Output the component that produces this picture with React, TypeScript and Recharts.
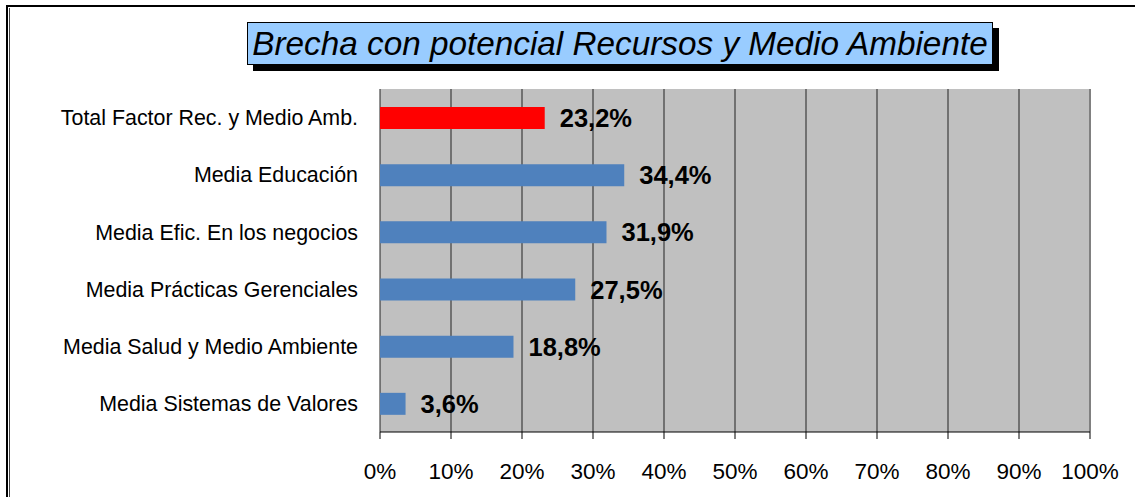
import React from 'react';
import {
  BarChart, Bar, XAxis, YAxis, CartesianGrid, Cell, LabelList, ReferenceLine,
} from 'recharts';

const categories = [
  'Total Factor Rec. y Medio Amb.',
  'Media Educación',
  'Media Efic. En los negocios',
  'Media Prácticas Gerenciales',
  'Media Salud y Medio Ambiente',
  'Media Sistemas de Valores',
];
const values = [23.2, 34.4, 31.9, 27.5, 18.8, 3.6];
const barColors = ['#FF0000', '#4F81BD', '#4F81BD', '#4F81BD', '#4F81BD', '#4F81BD'];
const xTicks = [0, 10, 20, 30, 40, 50, 60, 70, 80, 90, 100];
const boundaryTicks = [0, 1, 2, 3, 4, 5, 6];
const title = 'Brecha con potencial Recursos y Medio Ambiente';

const data = categories.map((name, i) => ({ name, value: values[i] }));

const FONT = '"Liberation Sans", Arial, sans-serif';

export default function App() {
  return (
    <div style={{ position: 'absolute', left: 0, top: 0, width: 1135, height: 497, overflow: 'hidden', background: '#fff', fontFamily: FONT }}>
      {/* frame */}
      <div style={{ position: 'absolute', left: 6, top: 5, width: 1200, height: 600, borderTop: '2px solid #000', borderLeft: '2px solid #000' }} />
      <div style={{ position: 'absolute', left: 9, top: 8, width: 0, height: 600, borderLeft: '1px solid #444' }} />
      <BarChart
        width={1135}
        height={497}
        data={data}
        layout="vertical"
        margin={{ top: 89, right: 45, bottom: 0, left: 0 }}
        barSize={22}
        style={{ position: 'absolute', left: 0, top: 0 }}
      >
        <CartesianGrid horizontal={false} stroke="#222" fill="#C0C0C0" />
        <XAxis
          type="number"
          domain={[0, 100]}
          ticks={xTicks}
          interval={0}
          tickFormatter={(v: number) => `${v}%`}
          height={65}
          tickSize={7}
          tickMargin={24}
          axisLine={{ stroke: '#000' }}
          tickLine={{ stroke: '#000' }}
          tick={{ fill: '#000', fontSize: 22.5, fontFamily: FONT }}
        />
        <YAxis
          yAxisId="bounds"
          type="number"
          domain={[0, 6]}
          ticks={boundaryTicks}
          interval={0}
          width={0}
          tick={false}
          tickSize={7}
          axisLine={{ stroke: '#000' }}
          tickLine={{ stroke: '#000' }}
        />
        <YAxis
          type="category"
          dataKey="name"
          width={380}
          axisLine={false}
          tickLine={false}
          tickSize={6}
          tickMargin={16}
          interval={0}
          tick={{ fill: '#000', fontSize: 21.4, fontFamily: FONT }}
        />
        <ReferenceLine x={100} stroke="#808080" strokeWidth={2} />
        <ReferenceLine yAxisId="bounds" y={6} stroke="#808080" strokeWidth={2} />
        <Bar dataKey="value" isAnimationActive={false}>
          {data.map((d, i) => (
            <Cell key={d.name} fill={barColors[i]} />
          ))}
          <LabelList
            dataKey="value"
            position="right"
            offset={15}
            formatter={(v: number) => `${v.toFixed(1).replace('.', ',')}%`}
            style={{ fill: '#000', fontSize: 25.5, fontWeight: 'bold', fontFamily: FONT }}
          />
        </Bar>
      </BarChart>
      {/* title */}
      <div style={{ position: 'absolute', left: 253, top: 28, width: 746, height: 43, background: '#000' }} />
      <div
        style={{
          position: 'absolute', left: 247, top: 22, width: 744, height: 41,
          background: '#99CCFF', border: '1px solid #000',
          display: 'flex', alignItems: 'center', justifyContent: 'center',
          fontStyle: 'italic', fontSize: 33.3, color: '#000', whiteSpace: 'nowrap',
        }}
      >
        {title}
      </div>
    </div>
  );
}
